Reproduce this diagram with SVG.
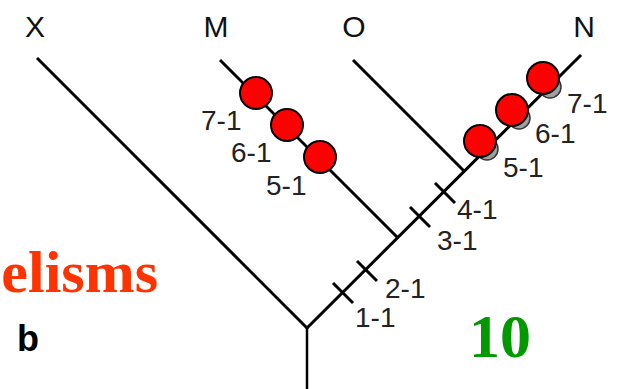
<svg xmlns="http://www.w3.org/2000/svg" width="628" height="389" viewBox="0 0 628 389">
<style>
.br{stroke:#000;stroke-width:3;fill:none;stroke-linecap:butt}
.tk{stroke:#000;stroke-width:3;fill:none}
.lab{font-family:"Liberation Sans",Arial,sans-serif;font-size:28px;fill:#222}
.top{font-family:"Liberation Sans",Arial,sans-serif;font-size:30px;fill:#111;text-anchor:middle}
.dot{fill:#ff0000;stroke:#000;stroke-width:2}
.sh{fill:#a0a0a0;stroke:#333;stroke-width:1.5}
</style>
<rect width="628" height="389" fill="#fff"/>
<g id="connectors">
<line class="br" x1="37" y1="58" x2="307" y2="328"/>
<line class="br" x1="307" y1="328" x2="581" y2="55"/>
<line class="br" x1="220" y1="60" x2="398" y2="238"/>
<line class="br" x1="353" y1="60" x2="464" y2="171"/>
<line x1="307" y1="328" x2="307" y2="389" stroke="#000" stroke-width="2.5"/>
<line class="tk" x1="333" y1="283" x2="353" y2="303"/>
<line class="tk" x1="357" y1="261" x2="377" y2="281"/>
<line class="tk" x1="410" y1="207" x2="430" y2="227"/>
<line class="tk" x1="435" y1="183" x2="455" y2="203"/>
</g>
<g id="X"><text class="top" x="35" y="37">X</text></g>
<g id="M"><text class="top" x="216" y="37">M</text></g>
<g id="O"><text class="top" x="354" y="37">O</text></g>
<g id="N"><text class="top" x="584" y="37">N</text></g>
<g id="ticks-labels">
<text class="lab" x="355" y="327">1-1</text>
<text class="lab" x="385" y="298">2-1</text>
<text class="lab" x="437" y="250">3-1</text>
<text class="lab" x="457" y="219">4-1</text>
</g>
<g id="M-dots">
<circle class="dot" cx="256" cy="93" r="16"/>
<circle class="dot" cx="287" cy="125" r="16"/>
<circle class="dot" cx="320" cy="157" r="16"/>
<text class="lab" x="201" y="130">7-1</text>
<text class="lab" x="231" y="162">6-1</text>
<text class="lab" x="266" y="195">5-1</text>
</g>
<g id="N-dots">
<circle class="sh" cx="487" cy="149" r="11"/>
<circle class="sh" cx="519" cy="118" r="11"/>
<circle class="sh" cx="550" cy="87" r="11"/>
<circle class="dot" cx="480" cy="141" r="16"/>
<circle class="dot" cx="512" cy="110" r="16"/>
<circle class="dot" cx="543" cy="78" r="16"/>
<text class="lab" x="503" y="177">5-1</text>
<text class="lab" x="535" y="143">6-1</text>
<text class="lab" x="567" y="113">7-1</text>
</g>
<g id="elisms"><text x="158" y="292" font-family="'Liberation Serif','Times New Roman',serif" font-weight="bold" font-size="60" fill="#ff3300" text-anchor="end">elisms</text></g>
<g id="b"><text x="17" y="351" font-family="'Liberation Sans',Arial,sans-serif" font-weight="bold" font-size="36" fill="#000">b</text></g>
<g id="num10"><text x="500" y="357" font-family="'Liberation Serif','Times New Roman',serif" font-weight="bold" font-size="62" fill="#009900" text-anchor="middle">10</text></g>
</svg>
